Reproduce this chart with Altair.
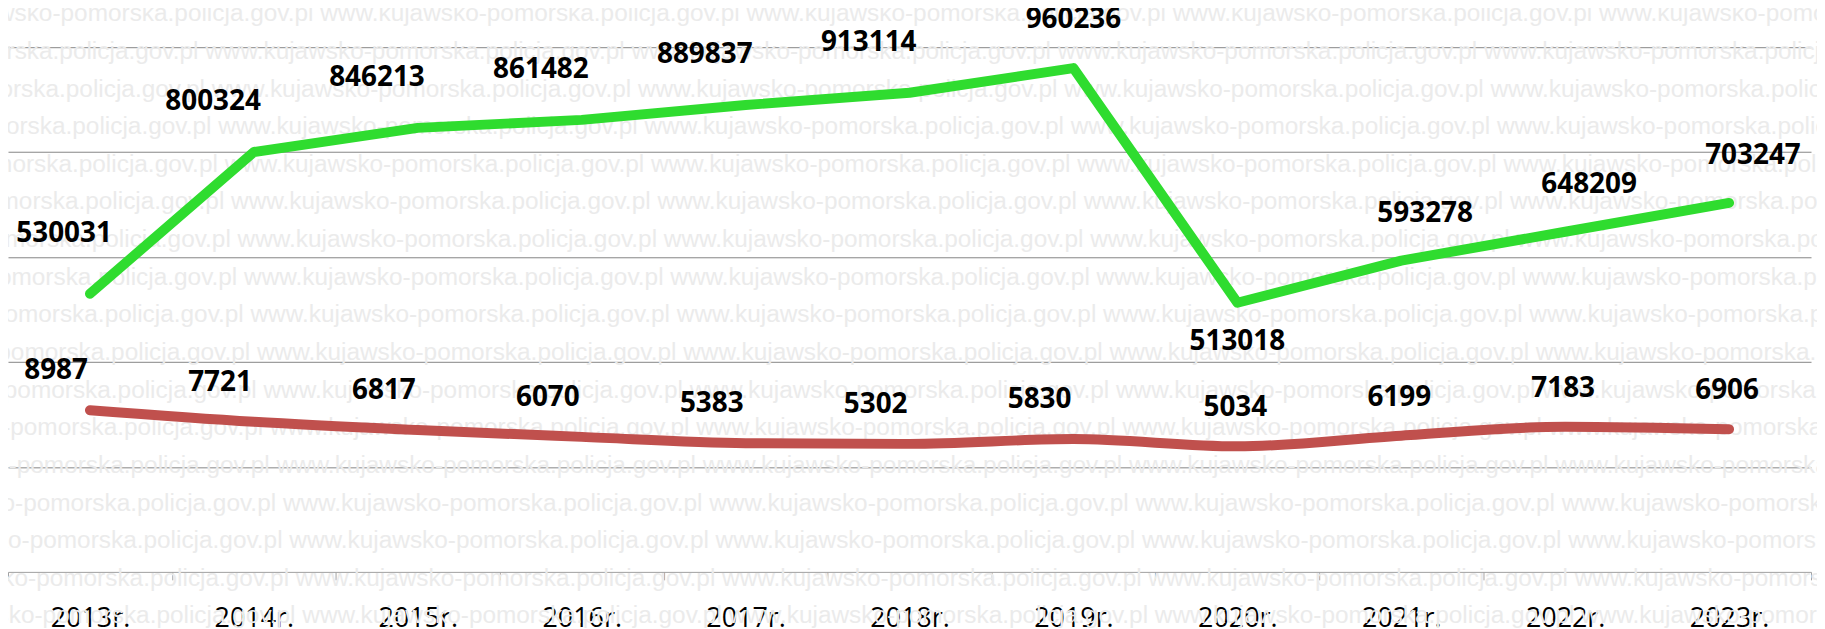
import math
import altair as alt
import pandas as pd

# ---------------- data ----------------
years = ["2013r.", "2014r.", "2015r.", "2016r.", "2017r.", "2018r.",
         "2019r.", "2020r.", "2021r.", "2022r.", "2023r."]
green_vals = [530031, 800324, 846213, 861482, 889837, 913114,
              960236, 513018, 593278, 648209, 703247]
red_vals = [8987, 7721, 6817, 6070, 5383, 5302,
            5830, 5034, 6199, 7183, 6906]

df = pd.DataFrame({"i": list(range(len(years))), "year": years,
                   "green": green_vals, "red": red_vals})

# ---------------- watermark (decoration) ----------------
WM_TEXT = "www.kujawsko-pomorska.policja.gov.pl"
WM_SIZE = 24.5
PERIOD = 17.615 * WM_SIZE
PLOT_TOP = 46
PLOT_LEFT = 8
rows = []
for r in range(17):
    page_y = 13 + 37.8 * r
    www_x = 325 if r == 0 else 203 + 6.5 * r
    n = math.ceil((www_x + 10) / PERIOD)
    start = www_x - PERIOD * n
    rows.append({"px": start - PLOT_LEFT, "py": page_y - PLOT_TOP,
                 "txt": " ".join([WM_TEXT] * 6)})
wm_df = pd.DataFrame(rows)

FONT = "Open Sans"
GREEN = "#2fdc2f"
RED = "#c0504d"

xsc = alt.Scale(type="band", domain=years, paddingInner=0, paddingOuter=0)

def xenc(axis=None):
    return alt.X("year:N", sort=years, scale=xsc, bandPosition=0.5,
                 axis=axis, title=None)

x_axis = alt.Axis(tickBand="extent", labelFont=FONT, labelFontSize=27,
                  labelColor="#000000", labelPadding=26, tickSize=8,
                  tickColor="#a0a0a0", domainColor="#a0a0a0", labelAngle=0,
                  grid=False, title=None)

gscale = alt.Scale(domain=[0, 1000000], nice=False, zero=False)
rscale = alt.Scale(domain=[-8700, 48700], nice=False, zero=False)

g_axis = alt.Axis(values=[200000, 400000, 600000, 800000, 1000000], grid=True,
                  gridColor="#858585", gridWidth=1, labels=False, ticks=False,
                  domain=False, title=None)

watermark = alt.Chart(wm_df).mark_text(
    align="left", baseline="middle", font="Liberation Sans",
    fontSize=WM_SIZE, color="#ebebeb"
).encode(
    x=alt.X("px:Q", scale=None, axis=None),
    y=alt.Y("py:Q", scale=None, axis=None),
    text="txt:N",
)

base = alt.Chart(df)

green_line = base.mark_line(color=GREEN, strokeWidth=10, strokeCap="round",
                            strokeJoin="round").encode(
    x=xenc(x_axis), y=alt.Y("green:Q", scale=gscale, axis=g_axis))

red_line = base.mark_line(color=RED, strokeWidth=10, strokeCap="round",
                          strokeJoin="round", interpolate="monotone").encode(
    x=xenc(), y=alt.Y("red:Q", scale=rscale, axis=None))

def labels(field, scale, cond, dx, dy):
    return base.transform_filter(cond).mark_text(
        font=FONT, fontSize=28, fontWeight="bold", color="#000000",
        align="center", baseline="middle", dx=dx, dy=dy
    ).encode(x=xenc(), y=alt.Y(f"{field}:Q", scale=scale, axis=None),
             text=alt.Text(f"{field}:Q", format="d"))

green_labels = [
    labels("green", gscale, "datum.i == 0", -26, -60),
    labels("green", gscale, "datum.i >= 1 && datum.i <= 5", -41, -50),
    labels("green", gscale, "datum.i == 6", 0, -48),
    labels("green", gscale, "datum.i == 7", 0, 40),
    labels("green", gscale, "datum.i >= 8", 24, -47),
]
red_labels = [
    labels("red", rscale, "datum.i <= 6", -34, -39),
    labels("red", rscale, "datum.i >= 7", -2, -38),
]

chart = alt.layer(
    watermark, green_line, red_line, *green_labels, *red_labels
).resolve_scale(
    x="independent", y="independent"
).properties(
    width=1811, height=527,
    padding={"left": 0, "top": 38, "right": 6, "bottom": 56},
    autosize=alt.AutoSizeParams(type="none"),
    background="#ffffff",
).configure_view(stroke=None)

chart.save("out.html", embed_options={"renderer": "svg", "actions": False})
